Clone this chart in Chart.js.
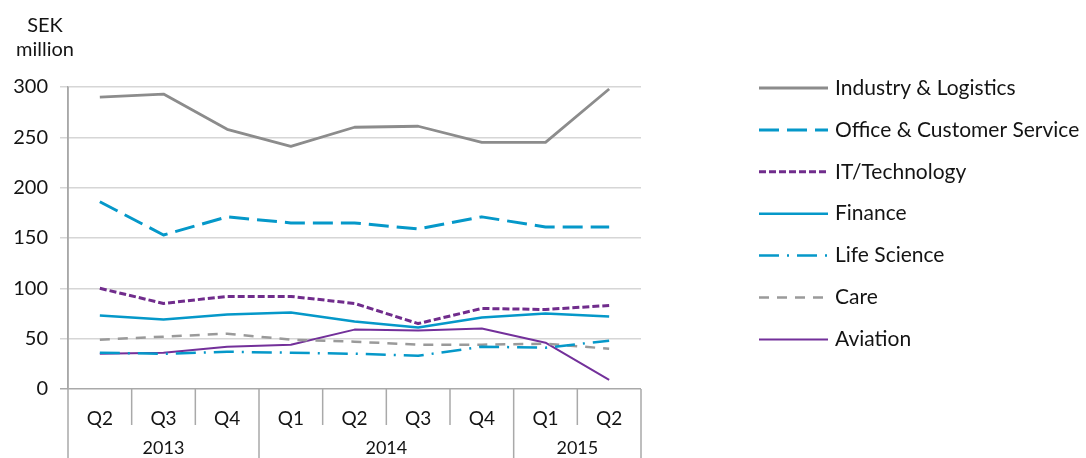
<!DOCTYPE html>
<html>
<head>
<meta charset="utf-8">
<script src="https://cdn.jsdelivr.net/npm/chart.js@4.4.1/dist/chart.umd.min.js"></script>
<style>
  html, body { margin: 0; padding: 0; background: #fff; }
  #wrap { width: 1086px; height: 458px; position: relative; }
</style>
</head>
<body>
<div id="wrap"><canvas id="c" width="1086" height="458"></canvas></div>
<script>
const quarters = ['Q2', 'Q3', 'Q4', 'Q1', 'Q2', 'Q3', 'Q4', 'Q1', 'Q2'];
const years = ['2013', '2014', '2015'];
const yearSpans = [3, 4, 2];
const yTicks = [0, 50, 100, 150, 200, 250, 300];
const yUnitLines = ['SEK', 'million'];

const seriesNames = ['Industry & Logistics', 'Office & Customer Service', 'IT/Technology', 'Finance', 'Life Science', 'Care', 'Aviation'];
const industryLogistics = [290, 293, 258, 241, 260, 261, 245, 245, 298];
const officeCustomer    = [186, 153, 171, 165, 165, 159, 171, 161, 161];
const itTechnology      = [100, 85, 92, 92, 85, 65, 80, 79, 83];
const finance           = [73, 69, 74, 76, 67, 61, 71, 75, 72];
const lifeScience       = [36, 35, 37, 36, 35, 33, 42, 41, 48];
const care              = [49, 52, 55, 49, 47, 44, 44, 45, 40];
const aviation          = [35, 36, 42, 44, 59, 58, 60, 46, 9];

const FONT = 'Lato, "Open Sans", sans-serif';
const TEXT = '#141414';

const styles = [
  { color: '#8c8c8c', width: 2.8, dash: [] },
  { color: '#0598c9', width: 3,   dash: [20, 8] },
  { color: '#702c8c', width: 3,   dash: [7, 3] },
  { color: '#0598c9', width: 2.5, dash: [] },
  { color: '#0598c9', width: 2.5, dash: [20, 8, 2, 8] },
  { color: '#9a9a9a', width: 2.5, dash: [10, 8] },
  { color: '#73309a', width: 2,   dash: [] }
];
const seriesData = [industryLogistics, officeCustomer, itTechnology, finance, lifeScience, care, aviation];

const datasets = seriesNames.map((name, i) => ({
  label: name,
  data: seriesData[i],
  borderColor: styles[i].color,
  backgroundColor: styles[i].color,
  borderWidth: styles[i].width,
  borderDash: styles[i].dash,
  borderCapStyle: 'butt',
  borderJoinStyle: 'round',
  pointRadius: 0,
  pointHoverRadius: 0,
  tension: 0,
  fill: false
}));

const decorations = {
  id: 'decorations',
  afterDraw(chart) {
    const ctx = chart.ctx;
    const x = chart.scales.x;
    const area = chart.chartArea;
    const H = chart.height;
    ctx.save();
    ctx.strokeStyle = '#a9a9a9';
    ctx.lineWidth = 1.5;
    ctx.beginPath();
    ctx.moveTo(area.left, area.top);
    ctx.lineTo(area.left, H);
    ctx.stroke();
    const n = quarters.length;
    const step = (x.getPixelForValue(1) - x.getPixelForValue(0));
    const yearBoundaries = [];
    let acc = 0;
    yearSpans.forEach(s => { acc += s; yearBoundaries.push(acc); });
    for (let i = 1; i <= n; i++) {
      const px = x.getPixelForValue(i - 1) + step / 2;
      const isYear = yearBoundaries.includes(i);
      ctx.beginPath();
      ctx.moveTo(px, area.bottom);
      ctx.lineTo(px, isYear ? H : area.bottom + 36);
      ctx.stroke();
    }
    ctx.fillStyle = TEXT;
    ctx.font = '18px ' + FONT;
    ctx.textAlign = 'center';
    ctx.textBaseline = 'middle';
    let start = 0;
    years.forEach((yr, k) => {
      const end = start + yearSpans[k] - 1;
      const cx = (x.getPixelForValue(start) + x.getPixelForValue(end)) / 2;
      ctx.fillText(yr, cx, 448);
      start = end + 1;
    });
    ctx.font = '20px ' + FONT;
    ctx.fillText(yUnitLines[0], 45, 26);
    ctx.fillText(yUnitLines[1], 45, 50);
    const lx0 = 759, lx1 = 828, ly0 = 88, lstep = 41.9;
    chart.data.datasets.forEach((ds, i) => {
      const ly = ly0 + i * lstep;
      ctx.save();
      ctx.strokeStyle = ds.borderColor;
      ctx.lineWidth = ds.borderWidth;
      ctx.setLineDash(ds.borderDash || []);
      ctx.lineCap = 'butt';
      ctx.beginPath();
      ctx.moveTo(lx0, ly);
      ctx.lineTo(lx1, ly);
      ctx.stroke();
      ctx.restore();
      ctx.fillStyle = TEXT;
      ctx.font = '21px ' + FONT;
      ctx.textAlign = 'left';
      ctx.textBaseline = 'middle';
      ctx.fillText(ds.label, 835, ly);
    });
    ctx.restore();
  }
};

new Chart(document.getElementById('c'), {
  type: 'line',
  data: { labels: quarters, datasets },
  options: {
    responsive: false,
    animation: false,
    devicePixelRatio: 1,
    layout: { padding: { top: 87, right: 445, left: 0, bottom: 0 } },
    plugins: { legend: { display: false }, tooltip: { enabled: false }, title: { display: false } },
    scales: {
      x: {
        offset: true,
        grid: { display: false },
        border: { display: false },
        ticks: { color: TEXT, font: { family: FONT, size: 19 }, padding: 10, maxRotation: 0 },
        afterFit(s) { s.height = 69; }
      },
      y: {
        min: 0, max: 300,
        afterBuildTicks(s) { s.ticks = yTicks.map(v => ({ value: v })); },
        grid: {
          color: ctx => ctx.tick && ctx.tick.value === 0 ? '#a9a9a9' : '#d6d6d6',
          lineWidth: 1.5,
          tickLength: 8,
          drawTicks: true
        },
        border: { display: true, color: '#a9a9a9', width: 1.5 },
        ticks: { color: TEXT, font: { family: FONT, size: 20 }, padding: 12 },
        afterFit(s) { s.width = 68; }
      }
    }
  },
  plugins: [decorations]
});
</script>
</body>
</html>
